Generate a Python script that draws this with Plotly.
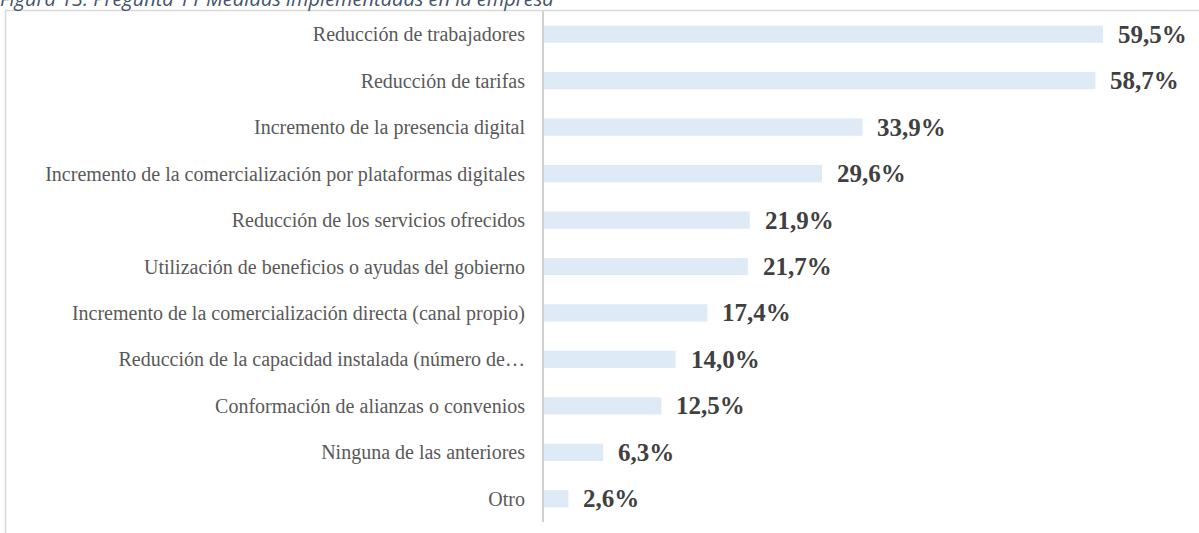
import plotly.graph_objects as go

categories = [
    "Reducción de trabajadores",
    "Reducción de tarifas",
    "Incremento de la presencia digital",
    "Incremento de la comercialización por plataformas digitales",
    "Reducción de los servicios ofrecidos",
    "Utilización de beneficios o ayudas del gobierno",
    "Incremento de la comercialización directa (canal propio)",
    "Reducción de la capacidad instalada (número de…",
    "Conformación de alianzas o convenios",
    "Ninguna de las anteriores",
    "Otro",
]
values = [59.5, 58.7, 33.9, 29.6, 21.9, 21.7, 17.4, 14.0, 12.5, 6.3, 2.6]
value_labels = ["59,5%", "58,7%", "33,9%", "29,6%", "21,9%", "21,7%", "17,4%", "14,0%", "12,5%", "6,3%", "2,6%"]
title_text = "Figura 13. Pregunta 11 Medidas implementadas en la empresa"

W, H = 1199, 533
L, R, T, B = 544, 35, 11, 11
PW = W - L - R
PH = H - T - B

def px2paper_x(px):
    return (px - L) / PW

def px2paper_y(py):
    return (H - B - py) / PH

fig = go.Figure()
fig.add_trace(go.Bar(
    x=values, y=categories, orientation="h",
    marker=dict(color="#DEEAF6", line=dict(width=0)),
    width=0.37, hoverinfo="skip",
))

annotations = []
for c, v, t in zip(categories, values, value_labels):
    annotations.append(dict(
        x=v, y=c, xref="x", yref="y", text="<b>" + t + "</b>",
        showarrow=False, xanchor="left", yanchor="middle", xshift=13,
        font=dict(family="Liberation Serif", size=25, color="#404040"),
    ))
annotations.append(dict(
    x=px2paper_x(-2), y=px2paper_y(-2), xref="paper", yref="paper",
    text=title_text, showarrow=False, xanchor="left", yanchor="middle",
    font=dict(family="Open Sans", size=20, color="#44546A", style="italic"),
))

shapes = [
    dict(type="line", xref="paper", yref="paper",
         x0=px2paper_x(5.5), x1=px2paper_x(1199), y0=px2paper_y(10.5), y1=px2paper_y(10.5),
         line=dict(color="#D9D9D9", width=1.5)),
    dict(type="line", xref="paper", yref="paper",
         x0=px2paper_x(5.5), x1=px2paper_x(5.5), y0=px2paper_y(10.5), y1=px2paper_y(533),
         line=dict(color="#D9D9D9", width=1.5)),
]

fig.update_layout(
    width=W, height=H,
    margin=dict(l=L, r=R, t=T, b=B, pad=0),
    paper_bgcolor="white", plot_bgcolor="white",
    showlegend=False,
    annotations=annotations, shapes=shapes,
    xaxis=dict(range=[0, 66], visible=False, fixedrange=True),
    yaxis=dict(autorange="reversed", showline=True, linecolor="#D0D0D0", linewidth=2,
               showgrid=False, zeroline=False, ticks="", ticklabelstandoff=13,
               fixedrange=True,
               tickfont=dict(family="Liberation Serif", size=20, color="#595959")),
)

fig.write_html(
    "out.html",
    config={"displayModeBar": False, "staticPlot": True},
    post_script="document.body.style.margin='0';document.body.style.padding='0';",
)
